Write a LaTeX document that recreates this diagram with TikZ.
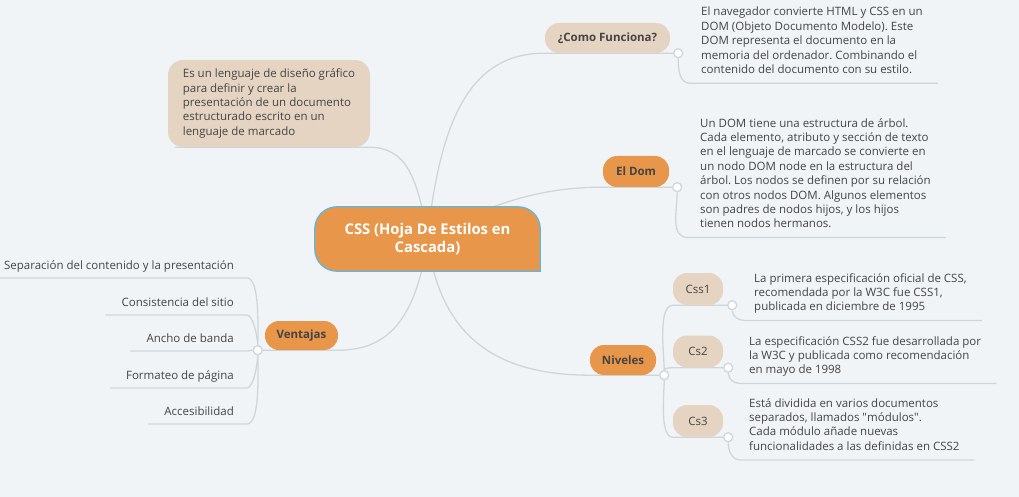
\documentclass[tikz,border=0pt]{standalone}
\usepackage{fontspec}
\setmainfont{Open Sans}
\usetikzlibrary{positioning}
\definecolor{paper}{HTML}{F0F4F7}
\definecolor{tangerine}{HTML}{E8964A}
\definecolor{sand}{HTML}{E6D4C2}
\definecolor{rim}{HTML}{62B6DE}
\definecolor{twig}{HTML}{CFD6DB}
\definecolor{ink}{HTML}{444444}
\pgfdeclarelayer{wires}
\pgfdeclarelayer{shade}
\pgfsetlayers{wires,shade,main}
\frenchspacing
\tikzset{
  branch/.style={draw=twig, line width=1.3pt},
  knob/.style={circle, draw=twig, fill=white, line width=1.3pt, inner sep=0pt, minimum size=9pt},
  pill/.style={rounded corners=14pt, inner sep=0pt, minimum height=30pt, text=ink, font=\bfseries\fontsize{11.5}{14}\selectfont},
  hot/.style={pill, fill=tangerine},
  mild/.style={pill, fill=sand},
  notes/.style={anchor=north west, align=left, inner sep=0pt, text depth=0pt, text=ink, font=\fontsize{11.5}{14.4}\selectfont},
  leaf/.style={anchor=base east, inner sep=0pt, text=ink, font=\fontsize{11.5}{14}\selectfont}
}
\begin{document}
\begin{tikzpicture}[x=1pt,y=-1pt]
\begin{pgfonlayer}{wires}
\fill[paper] (0,0) rectangle (1019,497);
\end{pgfonlayer}
\useasboundingbox (0,0) rectangle (1019,497);

% centre
\node[minimum width=225pt, minimum height=64pt, inner sep=0pt, align=center, text=white,
  font=\bfseries\fontsize{14.8}{18.5}\selectfont] (css) at (427.5,239) {CSS (Hoja De Estilos en\\Cascada)};
\begin{pgfonlayer}{shade}
\draw[draw=rim, line width=1.3pt, fill=tangerine] (css.south) [rounded corners=22pt] -- (css.south west)
  -- (css.north west) -- (css.north east) [sharp corners] -- (css.south east) -- cycle;
\end{pgfonlayer}

% topics
\node[mild, rounded corners=15pt, minimum width=202pt, minimum height=87pt, align=left,
  font=\fontsize{11.5}{14.3}\selectfont] (desc) at (269,103.5)
  {Es un lenguaje de diseño gráfico\\para definir y crear la\\presentación de un documento\\estructurado escrito en un\\lenguaje de marcado};
\node[mild, minimum width=125pt] (como) at (607.5,38) {¿Como Funciona?};
\node[hot, minimum width=66pt, minimum height=31pt] (dom) at (636,171.5) {El Dom};
\node[hot, minimum width=66pt] (niv) at (623,360) {Niveles};
\node[hot, minimum width=73pt, minimum height=29pt] (ven) at (301.5,335.5) {Ventajas};

\node[knob] (ck) at ([xshift=8pt]como.south east) {};
\node[knob] (dk) at ([xshift=8pt]dom.south east) {};
\node[knob] (nk) at ([xshift=8pt]niv.south east) {};
\node[knob] (vk) at ([xshift=-7pt]ven.south west) {};

\node[notes] (comotxt) at (701,7) {El navegador convierte HTML y CSS en un\\DOM (Objeto Documento Modelo). Este\\DOM representa el documento en la\\memoria del ordenador. Combinando el\\contenido del documento con su estilo.};
\node[notes] (domtxt) at (700,118) {Un DOM tiene una estructura de árbol.\\Cada elemento, atributo y sección de texto\\en el lenguaje de marcado se convierte en\\un nodo DOM node en la estructura del\\árbol. Los nodos se definen por su relación\\con otros nodos DOM. Algunos elementos\\son padres de nodos hijos, y los hijos\\tienen nodos hermanos.};

% niveles
\node[mild, minimum width=50pt, minimum height=32pt, font=\fontsize{11.5}{14}\selectfont] (c1) at (698,289) {Css1};
\node[mild, minimum width=50pt, minimum height=32pt, font=\fontsize{11.5}{14}\selectfont] (c2) at (698,351.5) {Cs2};
\node[mild, minimum width=50pt, minimum height=32pt, font=\fontsize{11.5}{14}\selectfont] (c3) at (698,421) {Cs3};
\node[knob] (c1k) at ([xshift=9pt]c1.south east) {};
\node[knob] (c2k) at ([xshift=5pt]c2.south east) {};
\node[knob] (c3k) at ([xshift=5pt]c3.south east) {};
\node[notes] (t1) at (754,273) {La primera especificación oficial de CSS,\\recomendada por la W3C fue CSS1,\\publicada en diciembre de 1995};
\node[notes] (t2) at (749,336) {La especificación CSS2 fue desarrollada por\\la W3C y publicada como recomendación\\en mayo de 1998};
\node[notes] (t3) at (749,398) {Está dividida en varios documentos\\separados, llamados \textquotedbl módulos\textquotedbl.\\Cada módulo añade nuevas\\funcionalidades a las definidas en CSS2};

\begin{pgfonlayer}{wires}
\draw[branch] (css.center) .. controls (418,175) and (405,148) .. (desc.south east) -- ([xshift=7pt]desc.south west);
\draw[branch] (css.center) .. controls (440,120) and (470,53) .. (como.south west) -- (ck);
\draw[branch] (css.center) .. controls (500,195) and (560,187) .. (dom.south west) -- (dk);
\draw[branch] (css.center) .. controls (440,340) and (500,375) .. (niv.south west) -- (nk);
\draw[branch] (css.center) .. controls (415,330) and (380,350) .. (ven.south east) -- (vk);
\draw[branch] (ck) to[out=-90,in=180] ([shift={(-11,9.5)}]comotxt.south west) -- ([shift={(15,9.5)}]comotxt.south east);
\draw[branch] (dk) to[out=-90,in=180] ([shift={(-12,9.5)}]domtxt.south west) -- ([shift={(15,9.5)}]domtxt.south east);
\draw[branch] (nk) to[out=90,in=180,looseness=0.6] (c1.south west) -- (c1k);
\draw[branch] (nk) to[out=90,in=180,looseness=0.6] (c2.south west) -- (c2k);
\draw[branch] (nk) to[out=-90,in=180,looseness=0.6] (c3.south west) -- (c3k);
\foreach \i in {1,2,3}
  \draw[branch] (c\i k) to[out=-90,in=180] ([shift={(-9,9.5)}]t\i.south west) -- ([shift={(15,9.5)}]t\i.south east);
\end{pgfonlayer}

% ventajas
\foreach \txt/\yy/\ang [count=\i] in {Separación del contenido y la presentación/269/90,
  Consistencia del sitio/306/90, Ancho de banda/342/180, Formateo de página/379/-90, Accesibilidad/415/-90}{
  \node[leaf] (v\i) at (234,\yy) {\txt};
  \begin{pgfonlayer}{wires}
  \draw[branch] (vk) to[out=\ang,in=0,looseness=0.5] ([shift={(13,9)}]v\i.base east) -- ([shift={(-16,9)}]v\i.base west);
  \end{pgfonlayer}
}
\end{tikzpicture}
\end{document}
